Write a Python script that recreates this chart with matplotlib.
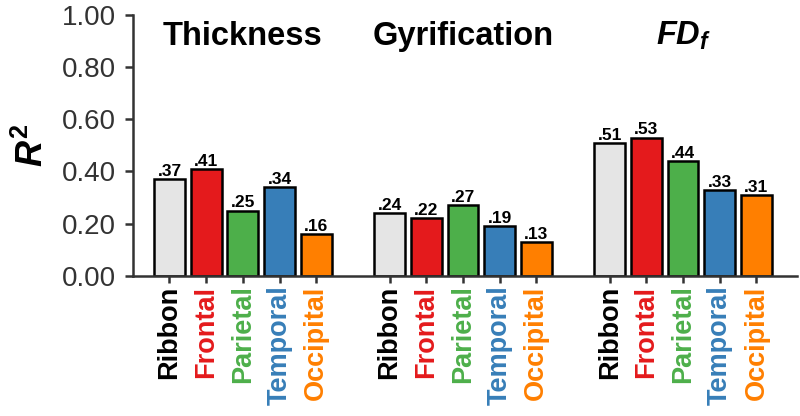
import matplotlib
matplotlib.use("Agg")
import matplotlib.pyplot as plt

plt.rcParams['font.family'] = ['Liberation Sans', 'DejaVu Sans']
plt.rcParams['mathtext.fontset'] = 'custom'
plt.rcParams['mathtext.it'] = 'Liberation Sans:italic:bold'
plt.rcParams['mathtext.rm'] = 'Liberation Sans:bold'
plt.rcParams['mathtext.bf'] = 'Liberation Sans:bold'

# data
groups = ["Thickness", "Gyrification", r"$FD_f$"]
regions = ["Ribbon", "Frontal", "Parietal", "Temporal", "Occipital"]
thickness = [0.37, 0.41, 0.25, 0.34, 0.16]
gyrification = [0.24, 0.22, 0.27, 0.19, 0.13]
fd_f = [0.51, 0.53, 0.44, 0.33, 0.31]
colors = ["#e5e5e5", "#e41a1c", "#4daf4a", "#377eb8", "#ff7f00"]
label_colors = ["black", "#e41a1c", "#4daf4a", "#377eb8", "#ff7f00"]

fig = plt.figure(figsize=(8, 4.16), dpi=100)
ax = fig.add_axes([0.166, 0.337, 0.83, 0.627])

axis_col = "#333333"
ticks_x, ticks_lab, ticks_col = [], [], []
for g, (name, vals) in enumerate(zip(groups, [thickness, gyrification, fd_f])):
    xs = [6 * g + i for i in range(len(vals))]
    ax.bar(xs, vals, width=0.84, color=colors, edgecolor="black", linewidth=1.8, zorder=2)
    for x, v in zip(xs, vals):
        ax.text(x, v + 0.012, ("%.2f" % v)[1:], ha="center", va="baseline",
                fontsize=12.5, fontweight="bold")
    ax.text(6 * g + 2, 0.885, name, ha="center", va="baseline",
            fontsize=23.5, fontweight="bold")
    ticks_x += xs
    ticks_lab += regions
    ticks_col += label_colors

ax.set_xlim(-1, 17.1)
ax.set_ylim(0, 1.0)
ax.set_yticks([0, 0.2, 0.4, 0.6, 0.8, 1.0])
ax.set_yticklabels(["%.2f" % t for t in [0, 0.2, 0.4, 0.6, 0.8, 1.0]])
ax.set_xticks(ticks_x)
ax.set_xticklabels(ticks_lab, rotation=90, fontsize=19.5, fontweight="bold")
for lab, c in zip(ax.get_xticklabels(), ticks_col):
    lab.set_color(c)

ax.set_ylabel(r"$R^2$", fontsize=26, labelpad=8)

for s in ["top", "right"]:
    ax.spines[s].set_visible(False)
for s in ["left", "bottom"]:
    ax.spines[s].set_linewidth(1.8)
    ax.spines[s].set_color(axis_col)
ax.tick_params(axis="y", length=6, width=1.8, color=axis_col, labelcolor=axis_col,
               labelsize=20, pad=6)
ax.tick_params(axis="x", length=5, width=1.8, color=axis_col, pad=2)

fig.savefig("out.png", dpi=100)
